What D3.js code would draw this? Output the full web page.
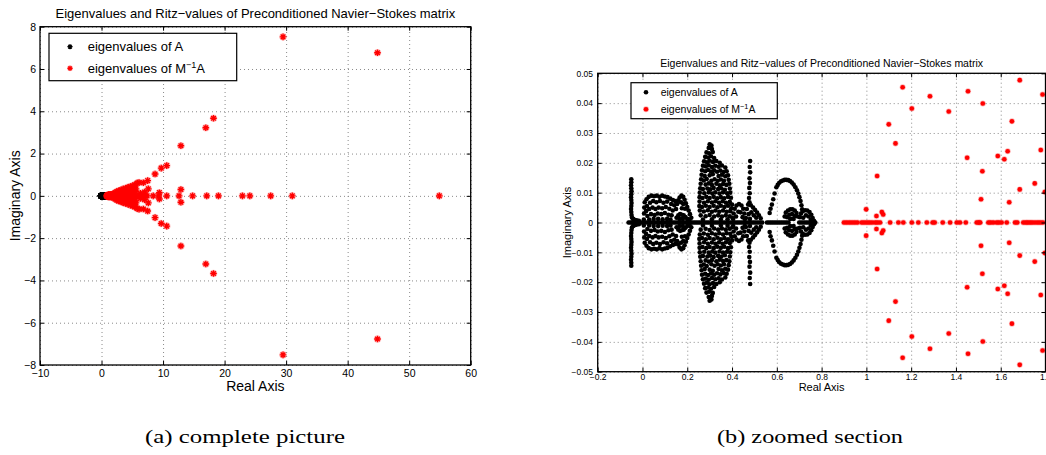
<!DOCTYPE html>
<html>
<head>
<meta charset="utf-8">
<script src="https://cdn.jsdelivr.net/npm/d3@7"></script>
<style>
  body { margin: 0; background: #fff; }
  svg { display: block; font-family: "Liberation Sans", Arial, Helvetica, sans-serif; }
  .grid line { stroke: #8a8a8a; stroke-dasharray: 1,3; stroke-width: 1; }
  .grid path { display: none; }
  .ticks path { display: none; }
  .ticks line { stroke: #000; stroke-width: 1; }
</style>
</head>
<body>
<div id="chart"></div>
<script>
// ---- data: eigenvalues of A (real ones, and upper halves of conjugate pairs)
const eigA_real = [
  -0.062, -0.055, -0.048, -0.04, -0.032, -0.024, -0.016, -0.008, 0, 0.008, 0.016, 0.024, 0.032, 0.04,
  0.048, 0.056, 0.064, 0.072, 0.08, 0.088, 0.096, 0.104, 0.112, 0.12, 0.128, 0.136, 0.144, 0.152,
  0.16, 0.168, 0.176, 0.184, 0.192, 0.2, 0.208, 0.216, 0.224, 0.232, 0.24, 0.248, 0.256, 0.264,
  0.272, 0.28, 0.288, 0.296, 0.304, 0.312, 0.32, 0.328, 0.336, 0.344, 0.352, 0.36, 0.368, 0.376,
  0.384, 0.392, 0.4, 0.408, 0.416, 0.424, 0.432, 0.44, 0.448, 0.456, 0.464, 0.472, 0.48, 0.488,
  0.496, 0.504, 0.512, 0.52, 0.528, 0.535, 0.556, 0.564, 0.572, 0.58, 0.588, 0.596, 0.604, 0.612,
  0.62, 0.628, 0.636, 0.644, 0.652, 0.7, 0.708, 0.716, 0.724, 0.732, 0.74, 0.748, 0.756, 0.764, 0.772
];

const eigA_pairs = [
  // spike near -0.05
  [-0.050, 0.0145], [-0.050, 0.0135], [-0.051, 0.0125], [-0.050, 0.0115], [-0.049, 0.0105],
  [-0.050, 0.0095], [-0.051, 0.0085], [-0.050, 0.0075], [-0.049, 0.0065], [-0.050, 0.0055],
  [-0.051, 0.0045], [-0.050, 0.0035], [-0.049, 0.0025], [-0.047, 0.0017], [-0.042, 0.0012],
  [-0.035, 0.0009], [-0.026, 0.0007], [-0.016, 0.0006],
  // group 0 .. 0.22
  [0.006, 0.001], [0.007, 0.003], [0.008, 0.005], [0.01, 0.0068],
  [0.018, 0.0078], [0.028, 0.0086], [0.04, 0.009], [0.052, 0.0088], [0.064, 0.009], [0.076, 0.0086],
  [0.088, 0.009], [0.1, 0.0087], [0.112, 0.0085], [0.124, 0.008], [0.136, 0.0075], [0.146, 0.0072],
  [0.02, 0.0055], [0.034, 0.0066], [0.048, 0.0072], [0.062, 0.0068], [0.078, 0.0072], [0.094, 0.0066],
  [0.11, 0.007], [0.128, 0.0062], [0.142, 0.0058],
  [0.016, 0.0038], [0.03, 0.0045], [0.045, 0.005], [0.058, 0.0045], [0.072, 0.005], [0.088, 0.0048],
  [0.104, 0.0052], [0.12, 0.0046], [0.135, 0.004], [0.15, 0.0045],
  [0.022, 0.0022], [0.038, 0.0028], [0.054, 0.0025], [0.068, 0.003], [0.084, 0.0028], [0.1, 0.0032],
  [0.116, 0.0026], [0.13, 0.0024],
  [0.03, 0.001], [0.05, 0.0012], [0.07, 0.0012], [0.09, 0.0011], [0.11, 0.0012], [0.125, 0.001],
  [0.155, 0.0062], [0.16, 0.0074], [0.166, 0.0084], [0.174, 0.009], [0.182, 0.0086], [0.188, 0.0076],
  [0.194, 0.0064], [0.2, 0.0052], [0.206, 0.004], [0.212, 0.0028], [0.218, 0.0016],
  [0.172, 0.0068], [0.182, 0.0062], [0.176, 0.0048], [0.19, 0.0046],
  [0.152, 0.0016], [0.16, 0.0024], [0.168, 0.0028], [0.176, 0.0026], [0.184, 0.0024], [0.192, 0.0018],
  [0.2, 0.0012], [0.165, 0.0012], [0.18, 0.0012], [0.21, 0.0008],
  // group around 0.3
  [0.300, 0.0262], [0.308, 0.0258],
  [0.296, 0.025], [0.31, 0.0246],
  [0.286, 0.0235], [0.298, 0.0232], [0.314, 0.0236],
  [0.28, 0.022], [0.293, 0.0218], [0.306, 0.0222], [0.32, 0.0216],
  [0.275, 0.0205], [0.288, 0.0202], [0.3, 0.0207], [0.315, 0.0203], [0.33, 0.0206], [0.345, 0.02],
  [0.27, 0.019], [0.283, 0.0188], [0.296, 0.0192], [0.31, 0.0186], [0.325, 0.019], [0.34, 0.0187],
  [0.355, 0.0191], [0.37, 0.0184],
  [0.266, 0.0175], [0.28, 0.0172], [0.293, 0.0176], [0.306, 0.0171], [0.32, 0.0175], [0.333, 0.017],
  [0.348, 0.0174], [0.362, 0.0169], [0.376, 0.0172],
  [0.264, 0.016], [0.278, 0.0156], [0.3, 0.0158], [0.314, 0.0162], [0.34, 0.0156], [0.355, 0.016],
  [0.37, 0.0155], [0.382, 0.0158],
  [0.262, 0.0145], [0.274, 0.0141], [0.287, 0.0146], [0.308, 0.014], [0.322, 0.0145], [0.336, 0.014],
  [0.35, 0.0144], [0.364, 0.014], [0.385, 0.0143],
  [0.26, 0.013], [0.282, 0.0127], [0.296, 0.0131], [0.31, 0.0126], [0.33, 0.013], [0.345, 0.0125],
  [0.36, 0.0129], [0.375, 0.0126], [0.388, 0.013],
  [0.258, 0.0115], [0.27, 0.0112], [0.29, 0.0114], [0.303, 0.0111], [0.318, 0.0116], [0.338, 0.0112],
  [0.352, 0.0115], [0.368, 0.011], [0.39, 0.0114],
  [0.256, 0.01], [0.276, 0.0098], [0.296, 0.0101], [0.312, 0.0097], [0.325, 0.0101], [0.344, 0.0097],
  [0.36, 0.0101], [0.378, 0.0098], [0.392, 0.01],
  [0.255, 0.0085], [0.268, 0.0082], [0.285, 0.0086], [0.3, 0.0082], [0.318, 0.0086], [0.334, 0.0081],
  [0.35, 0.0085], [0.365, 0.0081], [0.382, 0.0086], [0.395, 0.0083],
  [0.255, 0.007], [0.275, 0.0066], [0.292, 0.0071], [0.31, 0.0067], [0.326, 0.0071], [0.342, 0.0066],
  [0.358, 0.0071], [0.373, 0.0066], [0.39, 0.0069], [0.4, 0.006],
  [0.254, 0.0055], [0.266, 0.0052], [0.283, 0.0056], [0.3, 0.0052], [0.318, 0.0056], [0.335, 0.0051],
  [0.35, 0.0056], [0.366, 0.0052], [0.382, 0.0056], [0.397, 0.0048],
  [0.256, 0.004], [0.274, 0.0037], [0.292, 0.0041], [0.31, 0.0036], [0.326, 0.004], [0.343, 0.0036],
  [0.36, 0.004], [0.376, 0.0036], [0.392, 0.0038],
  [0.26, 0.0024], [0.282, 0.0021], [0.3, 0.0025], [0.32, 0.002], [0.338, 0.0024], [0.355, 0.002],
  [0.372, 0.0024], [0.39, 0.0021], [0.402, 0.0015],
  [0.27, 0.001], [0.31, 0.0011], [0.35, 0.001], [0.38, 0.0011],
  // group 0.40 .. 0.54
  [0.405, 0.0012], [0.407, 0.003], [0.412, 0.0046], [0.42, 0.0057], [0.431, 0.0062], [0.442, 0.0057],
  [0.45, 0.0046], [0.455, 0.003], [0.457, 0.0012], [0.418, 0.002], [0.428, 0.0036], [0.438, 0.0034],
  [0.447, 0.0018],
  [0.481, 0.0206], [0.479, 0.0186], [0.481, 0.0168], [0.478, 0.0148], [0.48, 0.0132], [0.477, 0.0116],
  [0.479, 0.0098], [0.476, 0.0082], [0.478, 0.0068],
  [0.462, 0.0015], [0.466, 0.0045], [0.472, 0.006], [0.484, 0.0058], [0.494, 0.005], [0.503, 0.0042],
  [0.512, 0.0033], [0.52, 0.0024], [0.528, 0.0014], [0.474, 0.0028], [0.486, 0.0034], [0.497, 0.0024],
  [0.508, 0.0016], [0.48, 0.0012],
  // group 0.56 .. 0.77
  [0.568, 0.0032], [0.572, 0.0046], [0.578, 0.006], [0.584, 0.0078], [0.59, 0.0097],
  [0.598, 0.0118], [0.604, 0.0126], [0.611, 0.0133], [0.619, 0.0138], [0.627, 0.0141], [0.635, 0.0143],
  [0.643, 0.0143], [0.651, 0.0142], [0.659, 0.0139], [0.667, 0.0134], [0.675, 0.0127], [0.683, 0.0118],
  [0.69, 0.0108], [0.696, 0.0097], [0.701, 0.0085], [0.706, 0.0072], [0.71, 0.0058], [0.713, 0.0044],
  [0.635, 0.002], [0.64, 0.0033], [0.65, 0.004], [0.66, 0.0044], [0.67, 0.0044], [0.68, 0.004],
  [0.688, 0.0032], [0.693, 0.002], [0.646, 0.0018], [0.656, 0.0026], [0.668, 0.0028], [0.68, 0.0022],
  [0.66, 0.0012], [0.675, 0.0012],
  [0.703, 0.0018], [0.708, 0.003], [0.716, 0.0038], [0.726, 0.0041], [0.736, 0.004], [0.746, 0.0035],
  [0.754, 0.0026], [0.76, 0.0015], [0.766, 0.0006], [0.718, 0.0016], [0.73, 0.0024], [0.742, 0.002],
  [0.752, 0.001]
];

// ---- data: eigenvalues of M^-1 A
const ritz_real = [
  0.9, 0.912, 0.924, 0.936, 0.948, 0.96, 0.979, 0.99, 1.002, 1.013, 1.025, 1.039, 1.049, 1.061,
  1.106, 1.143, 1.165, 1.203, 1.232, 1.27, 1.296, 1.305, 1.341, 1.374, 1.404, 1.418, 1.444, 1.493,
  1.502, 1.508, 1.545, 1.555, 1.567, 1.582, 1.592, 1.604, 1.627, 1.664, 1.674, 1.701, 1.712, 1.721,
  1.731, 1.741, 1.753, 1.765, 1.776, 1.788,
  1.85, 1.95, 2.05, 2.2, 2.35, 2.5, 2.7, 2.9, 3.1, 3.35, 3.6, 3.85, 4.1, 4.4, 4.7, 5.0, 5.3, 5.6,
  5.9, 6.2, 6.5, 6.8, 7.1, 7.4, 8.4, 9.3, 10.6, 12.6, 14.8, 17.1, 19.0, 22.9, 24.1, 27.5, 31.0, 54.9
];

const ritz_pairs = [
  [1.162, 0.0453], [1.284, 0.0423], [1.454, 0.044], [1.52, 0.0399], [1.685, 0.0477], [1.787, 0.0429],
  [1.203, 0.0382], [1.368, 0.0372], [1.1, 0.0329], [1.65, 0.0339], [1.13, 0.0265], [1.631, 0.0239],
  [1.587, 0.0223], [1.616, 0.0212], [1.45, 0.0217], [1.779, 0.0243], [1.518, 0.0172], [1.048, 0.0156],
  [1.752, 0.0131], [1.685, 0.0111], [1.797, 0.0102], [1.512, 0.0078], [1.638, 0.0068], [0.999, 0.0044],
  [1.069, 0.0035], [1.075, 0.0027], [1.045, 0.0022],
  [1.9, 0.04], [2.0, 0.1], [2.1, 0.06], [2.2, 0.15], [2.3, 0.03], [2.4, 0.11], [2.5, 0.2], [2.6, 0.07],
  [2.7, 0.16], [2.8, 0.24], [2.9, 0.04], [3.0, 0.12], [3.1, 0.2], [3.2, 0.28], [3.3, 0.08], [3.4, 0.17],
  [3.5, 0.32], [3.6, 0.24], [3.7, 0.05], [3.8, 0.13], [3.9, 0.36], [4.0, 0.22], [4.1, 0.29], [4.2, 0.09],
  [4.3, 0.4], [4.4, 0.17], [4.5, 0.33], [4.6, 0.25], [4.7, 0.44], [4.8, 0.06], [4.9, 0.37], [5.0, 0.14],
  [5.1, 0.48], [5.2, 0.27], [5.3, 0.4], [5.4, 0.52], [5.5, 0.2], [5.6, 0.33], [5.8, 0.6], [6.1, 0.63],
  [6.3, 0.12], [6.8, 0.62], [7.0, 0.18], [7.5, 0.72], [7.6, 0.33], [8.7, 1.03], [9.7, 1.31], [10.6, 1.43],
  [9.4, 0.15], [12.9, 0.3], [12.9, 2.37], [16.95, 3.22], [18.2, 3.67], [29.5, 7.52], [44.85, 6.77]
];

// ---- axes ticks
const xTicksA = [-10, 0, 10, 20, 30, 40, 50, 60];
const yTicksA = [-8, -6, -4, -2, 0, 2, 4, 6, 8];
const xTicksB = [-0.2, 0, 0.2, 0.4, 0.6, 0.8, 1, 1.2, 1.4, 1.6, 1.8];
const yTicksB = [-0.05, -0.04, -0.03, -0.02, -0.01, 0, 0.01, 0.02, 0.03, 0.04, 0.05];

const titleText = "Eigenvalues and Ritz\u2212values of Preconditioned Navier\u2212Stokes matrix";
const captions = ["(a) complete picture", "(b) zoomed section"];

const width = 1046;
const height = 455;

// conjugate pairs drawn above and below the real axis
const eigA = [
  ...eigA_real.map(x => [x, 0]),
  ...eigA_pairs,
  ...eigA_pairs.map(([x, y]) => [x, -y])
];
const ritz = [
  ...ritz_real.map(x => [x, 0]),
  ...ritz_pairs,
  ...ritz_pairs.map(([x, y]) => [x, -y])
];

const svg = d3.select("#chart")
  .append("svg")
  .attr("width", width)
  .attr("height", height);

const fmt = v => String(+v.toFixed(2)).replace("-", "\u2212");

// MATLAB '*' marker
function asterisk(r) {
  const k = r * 0.7;
  return `M${-r},0L${r},0M0,${-r}L0,${r}M${-k},${-k}L${k},${k}M${-k},${k}L${k},${-k}`;
}

const panels = [
  {
    id: "a", left: 40, right: 470.7, top: 26.7, bottom: 365,
    xDomain: [-10, 60], yDomain: [-8, 8], xTicks: xTicksA, yTicks: yTicksA,
    marker: "star", tickFont: 10.5, labelFont: 14, titleFont: 13,
    titleY: 18, xLabelY: 391, yLabelX: 15, xPad: 4.5, yPad: 4,
    legend: { x: 49, y: 33.3, w: 187.7, h: 47.4, mx: 70, tx: 87.7, rows: [46.7, 68.3], font: 13 }
  },
  {
    id: "b", left: 597.7, right: 1045.5, top: 73.3, bottom: 371.7,
    xDomain: [-0.2, 1.8], yDomain: [-0.05, 0.05], xTicks: xTicksB, yTicks: yTicksB,
    marker: "dot", tickFont: 8.5, labelFont: 11, titleFont: 10.5,
    titleY: 66.5, xLabelY: 391, yLabelX: 566.7, xPad: 2.3, yPad: 4.7,
    legend: { x: 631, y: 82.7, w: 146.3, h: 36, mx: 646, tx: 660.7, rows: [92.3, 109.3], font: 10.5 }
  }
];

function drawMarks(g, pts, p, x, y, color, small) {
  const red = color === "red";
  const m = g.append("g");
  if (p.marker === "star") {
    if (red) {
      m.selectAll("circle")
        .data(pts)
        .join("circle")
        .attr("cx", d => x(d[0]))
        .attr("cy", d => y(d[1]))
        .attr("r", small ? 3 : 3.8)
        .attr("fill", color)
        .attr("fill-opacity", 0.22);
    }
    m.selectAll("path")
      .data(pts)
      .join("path")
      .attr("transform", d => `translate(${x(d[0])},${y(d[1])})`)
      .attr("d", asterisk(small ? 2.6 : 3.3))
      .attr("stroke", color)
      .attr("stroke-width", small ? 1.2 : 1.4)
      .attr("fill", "none");
  } else {
    if (red) {
      m.selectAll("circle.h")
        .data(pts)
        .join("circle")
        .attr("class", "h")
        .attr("cx", d => x(d[0]))
        .attr("cy", d => y(d[1]))
        .attr("r", 3.0)
        .attr("fill", color)
        .attr("fill-opacity", 0.3);
    }
    m.selectAll("circle.c")
      .data(pts)
      .join("circle")
      .attr("class", "c")
      .attr("cx", d => x(d[0]))
      .attr("cy", d => y(d[1]))
      .attr("r", red ? 2.3 : 2.3)
      .attr("fill", color);
  }
}

panels.forEach(p => {
  const x = d3.scaleLinear().domain(p.xDomain).range([p.left, p.right]);
  const y = d3.scaleLinear().domain(p.yDomain).range([p.bottom, p.top]);
  const w = p.right - p.left;
  const h = p.bottom - p.top;
  const g = svg.append("g");

  // grid
  g.append("g").attr("class", "grid")
    .attr("transform", `translate(0,${p.bottom})`)
    .call(d3.axisBottom(x).tickValues(p.xTicks).tickFormat("").tickSize(-h));
  g.append("g").attr("class", "grid")
    .attr("transform", `translate(${p.left},0)`)
    .call(d3.axisLeft(y).tickValues(p.yTicks).tickFormat("").tickSize(-w));

  // points
  svg.append("clipPath").attr("id", "clip-" + p.id)
    .append("rect").attr("x", p.left).attr("y", p.top).attr("width", w).attr("height", h);
  const plot = g.append("g").attr("clip-path", `url(#clip-${p.id})`);
  drawMarks(plot, eigA, p, x, y, "#000");
  drawMarks(plot, ritz, p, x, y, "red");

  // ticks and labels (MATLAB style, ticks inside the box)
  const bottomAxis = g.append("g").attr("class", "ticks")
    .attr("transform", `translate(0,${p.bottom})`)
    .call(d3.axisBottom(x).tickValues(p.xTicks).tickFormat(fmt).tickSizeInner(-4).tickSizeOuter(0).tickPadding(p.xPad));
  const leftAxis = g.append("g").attr("class", "ticks")
    .attr("transform", `translate(${p.left},0)`)
    .call(d3.axisLeft(y).tickValues(p.yTicks).tickFormat(fmt).tickSizeInner(-4).tickSizeOuter(0).tickPadding(p.yPad));
  g.append("g").attr("class", "ticks")
    .attr("transform", `translate(0,${p.top})`)
    .call(d3.axisTop(x).tickValues(p.xTicks).tickFormat("").tickSizeInner(-4).tickSizeOuter(0));
  g.append("g").attr("class", "ticks")
    .attr("transform", `translate(${p.right},0)`)
    .call(d3.axisRight(y).tickValues(p.yTicks).tickFormat("").tickSizeInner(-4).tickSizeOuter(0));
  [bottomAxis, leftAxis].forEach(a => a.selectAll("text")
    .attr("fill", "#000")
    .style("font-family", "'Liberation Sans', Arial, sans-serif")
    .style("font-size", p.tickFont + "px"));

  // box
  g.append("rect")
    .attr("x", p.left).attr("y", p.top).attr("width", w).attr("height", h)
    .attr("fill", "none").attr("stroke", "#000").attr("stroke-width", 1.3);

  // titles and axis labels
  const cx = (p.left + p.right) / 2;
  g.append("text").attr("x", cx).attr("y", p.titleY)
    .attr("text-anchor", "middle").style("font-size", p.titleFont + "px")
    .text(titleText);
  g.append("text").attr("x", cx).attr("y", p.xLabelY)
    .attr("text-anchor", "middle").style("font-size", p.labelFont + "px")
    .text("Real Axis");
  g.append("text")
    .attr("transform", `translate(${p.yLabelX},${(p.top + p.bottom) / 2}) rotate(-90)`)
    .attr("text-anchor", "middle").attr("dy", "0.35em").style("font-size", p.labelFont + "px")
    .text("Imaginary Axis");

  // legend
  const L = p.legend;
  const lg = g.append("g");
  lg.append("rect").attr("x", L.x).attr("y", L.y).attr("width", L.w).attr("height", L.h)
    .attr("fill", "#fff").attr("stroke", "#000").attr("stroke-width", 1.2);
  const lx = d3.scaleLinear().range([L.mx, L.mx + 1]);
  const ly = d3.scaleLinear().range([0, 1]);
  drawMarks(lg.append("g").attr("transform", `translate(0,${L.rows[0]})`), [[0, 0]], p, lx, ly, "#000", true);
  drawMarks(lg.append("g").attr("transform", `translate(0,${L.rows[1]})`), [[0, 0]], p, lx, ly, "red", true);
  lg.append("text").attr("x", L.tx).attr("y", L.rows[0]).attr("dy", "0.36em")
    .style("font-size", L.font + "px").text("eigenvalues of A");
  const t2 = lg.append("text").attr("x", L.tx).attr("y", L.rows[1]).attr("dy", "0.36em")
    .style("font-size", L.font + "px");
  t2.append("tspan").text("eigenvalues of M");
  t2.append("tspan").attr("dy", -L.font * 0.42).style("font-size", (L.font * 0.7) + "px").text("\u22121");
  t2.append("tspan").attr("dy", L.font * 0.42).text("A");
});

// sub-figure captions
const capFont = "'Liberation Serif', 'Times New Roman', serif";
svg.append("text").attr("x", 245).attr("y", 443).attr("text-anchor", "middle")
  .attr("textLength", 200).attr("lengthAdjust", "spacingAndGlyphs")
  .style("font-family", capFont).style("font-size", "19px")
  .text(captions[0]);
svg.append("text").attr("x", 810).attr("y", 443).attr("text-anchor", "middle")
  .attr("textLength", 186).attr("lengthAdjust", "spacingAndGlyphs")
  .style("font-family", capFont).style("font-size", "19px")
  .text(captions[1]);
</script>
</body>
</html>
